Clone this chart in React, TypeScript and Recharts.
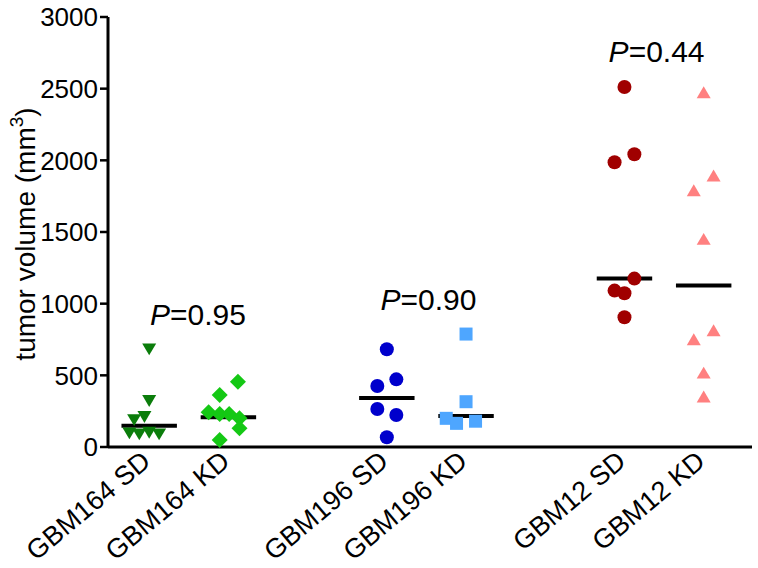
import React from "react";
import { ScatterChart, Scatter, XAxis, YAxis, ReferenceLine, ReferenceDot } from "recharts";

// groups, in the order they sit on the x axis
const categories = ["GBM164 SD", "GBM164 KD", "GBM196 SD", "GBM196 KD", "GBM12 SD", "GBM12 KD"];
const slots = [0, 1, 3, 4, 6, 7];
const yTicks = [0, 500, 1000, 1500, 2000, 2500, 3000];

// tumor volumes (mm3)
const gbm164SD = [693, 333, 221, 200, 107, 100, 112, 100];
const gbm164KD = [456, 363, 242, 230, 230, 200, 130, 49];
const gbm196SD = [682, 472, 426, 265, 223, 68];
const gbm196KD = [788, 316, 200, 165, 180];
const gbm12SD = [2512, 2042, 1987, 1175, 1091, 1073, 905];
const gbm12KD = [2463, 1882, 1779, 1440, 802, 740, 507, 340];

// horizontal spread of the dots inside a column (x units)
const gbm164SDJitter = [0, 0, -0.06, -0.19, -0.25, -0.125, 0, 0.125];
const gbm164KDJitter = [0.12, -0.11, -0.25, -0.11, 0.01, 0.14, 0.14, -0.11];
const gbm196SDJitter = [0, 0.12, -0.12, -0.12, 0.12, 0];
const gbm196KDJitter = [0, 0, -0.25, -0.12, 0.12];
const gbm12SDJitter = [0, 0.125, -0.125, 0.125, -0.125, 0, 0];
const gbm12KDJitter = [0, 0.125, -0.125, 0, 0.125, -0.125, 0, 0];

const medians = [149, 207, 342, 216, 1175, 1126];

const pLabels = ["0.95", "0.90", "0.44"];
const pAt = [
  { x: 0.01, y: 851 },
  { x: 2.92, y: 956 },
  { x: 5.8, y: 2687 },
];

const FONT = "'Liberation Sans', Arial, sans-serif";

const toPoints = (vals: number[], jit: number[], slot: number) =>
  vals.map((v, i) => ({ x: slot + jit[i], y: v }));

const DownTriangle = (p: any) => {
  const { cx, cy } = p;
  const s = 7;
  return <path d={`M${cx - s},${cy - s * 0.6} L${cx + s},${cy - s * 0.6} L${cx},${cy + s * 1.1} Z`} fill="#0b7d0b" />;
};
const UpTriangle = (p: any) => {
  const { cx, cy } = p;
  const s = 7;
  return <path d={`M${cx - s},${cy + s * 0.6} L${cx + s},${cy + s * 0.6} L${cx},${cy - s * 1.1} Z`} fill="#ff8080" />;
};
const Diamond = (p: any) => {
  const { cx, cy } = p;
  const s = 8;
  return <path d={`M${cx},${cy - s} L${cx + s},${cy} L${cx},${cy + s} L${cx - s},${cy} Z`} fill="#14c814" />;
};
const Square = (p: any) => {
  const { cx, cy } = p;
  const s = 6.5;
  return <rect x={cx - s} y={cy - s} width={s * 2} height={s * 2} fill="#4ea6ff" />;
};
const Dot = (color: string) => (p: any) => <circle cx={p.cx} cy={p.cy} r={7} fill={color} />;

const XTick = (props: any) => {
  const { x, y, payload } = props;
  const i = slots.indexOf(payload.value);
  return (
    <g transform={`translate(${x + 3},${y + 9})`}>
      <text x={0} y={0} textAnchor="end" transform="rotate(-40)" fontSize={27} fontFamily={FONT} fill="#000">
        {categories[i]}
      </text>
    </g>
  );
};

const PLabel = (txt: string) => (props: any) => {
  const { viewBox } = props;
  return (
    <text x={viewBox.x} y={viewBox.y} fontSize={30} fontFamily={FONT} fill="#000">
      <tspan fontStyle="italic">P</tspan>={txt}
    </text>
  );
};

const YLabel = () => (
  <text x={0} y={0} transform="translate(35,234) rotate(-90)" textAnchor="middle" fontSize={28} fontFamily={FONT} fill="#000">
    tumor volume (mm<tspan dy={-12} fontSize={19}>3</tspan><tspan dy={12}>)</tspan>
  </text>
);

export default function App() {
  return (
    <div style={{ position: "absolute", left: 0, top: 0, background: "#fff" }}>
      <ScatterChart width={758} height={568} margin={{ top: 17, right: 6, left: 0, bottom: 0 }}>
        <XAxis
          type="number"
          dataKey="x"
          domain={[-0.52, 7.61]}
          ticks={slots}
          interval={0}
          tickLine={false}
          axisLine={{ stroke: "#000", strokeWidth: 3 }}
          tick={<XTick />}
          height={121}
          allowDataOverflow
        />
        <YAxis
          type="number"
          dataKey="y"
          domain={[0, 3000]}
          ticks={yTicks}
          interval={0}
          width={108}
          axisLine={{ stroke: "#000", strokeWidth: 3 }}
          tickLine={{ stroke: "#000", strokeWidth: 2.5 }}
          tickSize={8}
          tick={{ fill: "#000", fontSize: 26, fontFamily: FONT }}
          label={{ content: YLabel }}
        />
        <Scatter data={toPoints(gbm164SD, gbm164SDJitter, slots[0])} shape={DownTriangle} isAnimationActive={false} />
        <Scatter data={toPoints(gbm164KD, gbm164KDJitter, slots[1])} shape={Diamond} isAnimationActive={false} />
        <Scatter data={toPoints(gbm196SD, gbm196SDJitter, slots[2])} shape={Dot("#0000cc")} isAnimationActive={false} />
        <Scatter data={toPoints(gbm196KD, gbm196KDJitter, slots[3])} shape={Square} isAnimationActive={false} />
        <Scatter data={toPoints(gbm12SD, gbm12SDJitter, slots[4])} shape={Dot("#a00000")} isAnimationActive={false} />
        <Scatter data={toPoints(gbm12KD, gbm12KDJitter, slots[5])} shape={UpTriangle} isAnimationActive={false} />
        {medians.map((m, i) => (
          <ReferenceLine
            key={i}
            segment={[{ x: slots[i] - 0.35, y: m }, { x: slots[i] + 0.35, y: m }]}
            stroke="#000"
            strokeWidth={4}
          />
        ))}
        {pLabels.map((t, i) => (
          <ReferenceDot key={t} x={pAt[i].x} y={pAt[i].y} r={0} stroke="none" label={PLabel(t)} />
        ))}
      </ScatterChart>
    </div>
  );
}
